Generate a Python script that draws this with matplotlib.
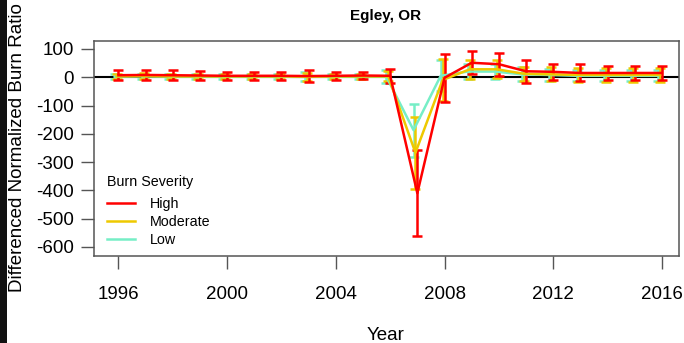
import matplotlib
matplotlib.use("Agg")
import matplotlib.pyplot as plt
from matplotlib.patches import Rectangle

plt.rcParams["font.family"] = ["Liberation Sans", "DejaVu Sans"]

years = list(range(1996, 2017))

high_mean = [7, 8, 7, 6, 5, 5, 5, 4, 5, 6, 5, -410, -2, 51, 46, 21, 19, 15, 15, 15, 15]
high_err = [17, 17, 17, 15, 14, 15, 14, 20, 15, 14, 25, 152, 85, 41, 40, 41, 29, 30, 26, 26, 26]

mod_mean = [3, 4, 3, 3, 3, 3, 3, 2, 3, 3, 3, -267, -10, 28, 28, 12, 10, 8, 8, 8, 8]
mod_err = [10, 10, 10, 9, 9, 9, 9, 14, 9, 9, 18, 127, 75, 33, 32, 25, 25, 25, 25, 25, 25]

low_mean = [2, 3, 2, 2, 2, 2, 2, 1, 2, 2, 2, -187, 5, 20, 20, 10, 8, 5, 5, 5, 5]
low_err = [10, 10, 10, 9, 9, 9, 9, 16, 9, 9, 22, 94, 55, 28, 25, 25, 20, 20, 20, 20, 20]

series = [
    ("Low", low_mean, low_err, "#76EEC6", -0.14),
    ("Moderate", mod_mean, mod_err, "#EEC900", -0.07),
    ("High", high_mean, high_err, "#FF0000", 0.0),
]

y_ticks = [100, 0, -100, -200, -300, -400, -500, -600]
x_ticks = [1996, 2000, 2004, 2008, 2012, 2016]

GRAY = "#555555"

fig = plt.figure(figsize=(6.84, 3.43), dpi=100)
fig.patch.set_facecolor("white")
ax = fig.add_axes([94 / 684, 1 - 256 / 343, 585 / 684, 215 / 343])

ax.axhline(0, color="black", lw=1.5, zorder=1)

handles = {}
for name, mean, err, color, dx in series:
    xs = [y + dx for y in years]
    cont = ax.errorbar(xs, mean, yerr=err, color=color, lw=1.8, elinewidth=1.8,
                       capsize=3.4, capthick=1.8, zorder=3)
    handles[name] = cont.lines[0]

ax.set_xlim(1995.1, 2016.63)
ax.set_ylim(-632, 128)
ax.set_xticks(x_ticks)
ax.set_yticks(y_ticks)
ax.set_yticklabels([str(t) for t in y_ticks])
ax.tick_params(axis="both", direction="out", length=9.5, width=1.0, color=GRAY,
               labelsize=13.5, labelcolor="black")
ax.tick_params(axis="x", pad=12)
ax.tick_params(axis="y", pad=5)
for s in ax.spines.values():
    s.set_color(GRAY)
    s.set_linewidth(1.1)

leg = ax.legend([handles["High"], handles["Moderate"], handles["Low"]],
                ["High", "Moderate", "Low"], title="Burn Severity",
                loc="lower left", bbox_to_anchor=(0.0, -0.02), frameon=False,
                fontsize=10.3, title_fontsize=10.3, handlelength=2.0,
                handletextpad=1.0, labelspacing=0.3)
leg._legend_box.align = "left"
leg._legend_box.sep = 6

fig.text(386 / 684, 1 - 16 / 343, "Egley, OR", ha="center", va="center",
         fontsize=11, fontweight="bold")
fig.text(18 / 684, 1 - 148 / 343, "Differenced Normalized Burn Ratio",
         rotation=90, ha="center", va="center", fontsize=13.5)
fig.text(386 / 684, 1 - 335 / 343, "Year", ha="center", va="center", fontsize=13.5)

fig.add_artist(Rectangle((0, 0), 7 / 684, 1, transform=fig.transFigure,
                         facecolor="#111111", edgecolor="none"))

fig.savefig("out.png", dpi=100)
